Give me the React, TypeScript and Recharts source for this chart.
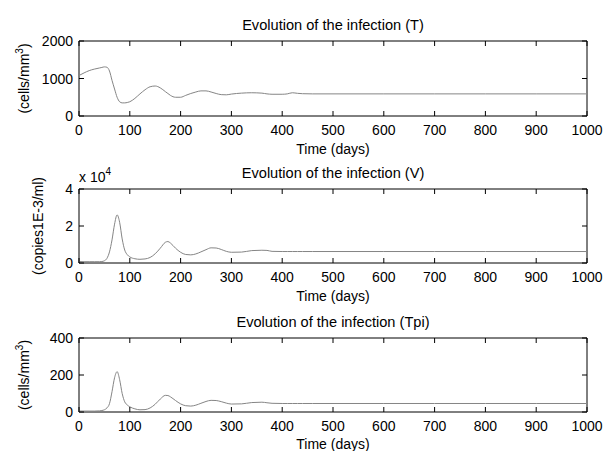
import React from 'react';
import { LineChart, Line, XAxis, YAxis, ReferenceArea, Label } from 'recharts';

const days = [0, 10, 20, 30, 40, 45, 50, 55, 60, 65, 70, 75, 80, 85, 90, 95, 100, 110, 120, 130, 140, 150, 160, 170, 175, 180, 190, 200, 210, 220, 230, 240, 250, 260, 270, 280, 290, 300, 320, 340, 360, 370, 380, 400, 410, 420, 430, 440, 460, 500, 600, 700, 800, 900, 1000];

const tCells = [1080, 1150, 1210, 1250, 1280, 1295, 1310, 1300, 1200, 950, 720, 500, 380, 350, 350, 360, 380, 470, 590, 700, 780, 800, 750, 650, 600, 550, 500, 500, 550, 600, 640, 670, 670, 640, 600, 570, 565, 585, 610, 620, 610, 590, 580, 580, 590, 620, 605, 595, 590, 590, 590, 590, 590, 590, 590];

const virus = [800, 700, 700, 700, 700, 800, 1200, 2500, 6000, 12500, 21000, 26000, 22000, 13000, 7000, 4500, 3300, 2300, 2000, 2200, 3000, 5000, 8000, 11200, 11600, 10800, 8000, 5800, 4600, 4400, 4900, 6000, 7200, 8200, 8100, 7300, 6300, 5800, 5900, 6700, 6900, 6800, 6300, 6200, 6200, 6200, 6200, 6200, 6200, 6200, 6200, 6200, 6200, 6200, 6200];

const tpi = [5, 5, 5, 5, 6, 8, 12, 22, 45, 110, 185, 218, 175, 100, 55, 38, 28, 17, 12, 13, 22, 42, 70, 90, 89, 82, 62, 44, 34, 32, 37, 47, 57, 63, 62, 56, 48, 43, 44, 51, 53, 50, 47, 46, 46, 46, 46, 46, 46, 46, 46, 46, 46, 46, 46];

const xTicks = [0, 100, 200, 300, 400, 500, 600, 700, 800, 900, 1000];
const tTicks = [0, 1000, 2000];
const vTicks = [0, 20000, 40000];
const tpiTicks = [0, 200, 400];

const titles = ['Evolution of the infection (T)', 'Evolution of the infection (V)', 'Evolution of the infection (Tpi)'];
const xLabel = 'Time (days)';

const rows = days.map((d, i) => ({ day: d, T: tCells[i], V: virus[i], Tpi: tpi[i] }));

const FONT = '"Liberation Sans", Arial, sans-serif';
const FS = 14;
const TITLE_FS = 14.6;
const LEFT = 79;
const RIGHT = 19;
const TOP = 41;
const W = 606;
const PLOT_W = W - LEFT - RIGHT;
const TICK = 5;
const YAXIS_W = 30;
const XAXIS_H = 20;

function makeXTick(plotH: number) {
  return (props: any) => {
    const { x, y, payload } = props;
    return (
      <g>
        <line x1={x} y1={y} x2={x} y2={y - TICK} stroke="#000" strokeWidth={1} />
        <line x1={x} y1={y - plotH} x2={x} y2={y - plotH + TICK} stroke="#000" strokeWidth={1} />
        <text x={x} y={y + 19} textAnchor="middle" fontFamily={FONT} fontSize={FS} fill="#000">
          {payload.value}
        </text>
      </g>
    );
  };
}

function makeYTick(fmt: (v: number) => string) {
  return (props: any) => {
    const { x, y, payload } = props;
    return (
      <g>
        <line x1={x} y1={y} x2={x + TICK} y2={y} stroke="#000" strokeWidth={1} />
        <line x1={x + PLOT_W} y1={y} x2={x + PLOT_W - TICK} y2={y} stroke="#000" strokeWidth={1} />
        <text x={x - 6} y={y} textAnchor="end" dominantBaseline="central" fontFamily={FONT} fontSize={FS} fill="#000">
          {fmt(payload.value)}
        </text>
      </g>
    );
  };
}

type PanelProps = {
  top: number;
  height: number;
  plotH: number;
  dataKey: string;
  yMax: number;
  yTicks: number[];
  fmt: (v: number) => string;
  title: string;
  yLabel: React.ReactNode;
  yLabelX: number;
  timeOffset: number;
  exponent?: boolean;
};

function Panel(p: PanelProps) {
  const cx = LEFT + PLOT_W / 2;
  const cy = TOP + p.plotH / 2;
  const xLabelContent = () => (
    <g>
      <text x={cx} y={TOP - 11} textAnchor="middle" fontFamily={FONT} fontSize={TITLE_FS} fill="#000">
        {p.title}
      </text>
      <text x={cx} y={TOP + p.plotH + p.timeOffset} textAnchor="middle" fontFamily={FONT} fontSize={FS} fill="#000">
        {xLabel}
      </text>
    </g>
  );
  const yLabelContent = () => (
    <g>
      <text
        x={p.yLabelX}
        y={cy}
        transform={`rotate(-90, ${p.yLabelX}, ${cy})`}
        textAnchor="middle"
        fontFamily={FONT}
        fontSize={FS}
        fill="#000"
      >
        {p.yLabel}
      </text>
      {p.exponent ? (
        <text x={LEFT} y={TOP - 7} fontFamily={FONT} fontSize={FS} fill="#000">
          x 10
          <tspan dy={-7} fontSize={10}>4</tspan>
        </text>
      ) : null}
    </g>
  );
  return (
    <div style={{ position: 'absolute', left: 0, top: p.top }}>
      <LineChart
        width={W}
        height={p.height}
        data={rows}
        margin={{ top: TOP, right: RIGHT, bottom: p.height - TOP - p.plotH - XAXIS_H, left: LEFT - YAXIS_W }}
      >
        <XAxis
          dataKey="day"
          type="number"
          domain={[0, 1000]}
          ticks={xTicks}
          interval={0}
          height={XAXIS_H}
          tickSize={0}
          tickMargin={0}
          tickLine={false}
          axisLine={false}
          tick={makeXTick(p.plotH)}
        >
          <Label content={xLabelContent} />
        </XAxis>
        <YAxis
          type="number"
          domain={[0, p.yMax]}
          ticks={p.yTicks}
          interval={0}
          width={YAXIS_W}
          tickSize={0}
          tickMargin={0}
          tickLine={false}
          axisLine={false}
          tick={makeYTick(p.fmt)}
        >
          <Label content={yLabelContent} />
        </YAxis>
        <ReferenceArea x1={0} x2={1000} y1={0} y2={p.yMax} fill="none" stroke="#000" strokeWidth={1} fillOpacity={0} />
        <Line
          type="monotone"
          dataKey={p.dataKey}
          stroke="#858585"
          strokeWidth={1}
          dot={false}
          isAnimationActive={false}
        />
      </LineChart>
    </div>
  );
}

export default function App() {
  return (
    <div style={{ position: 'absolute', left: 0, top: 0, width: W, height: 451, background: '#fff', overflow: 'hidden' }}>
      <Panel
        top={0}
        height={160}
        plotH={75}
        dataKey="T"
        yMax={2000}
        yTicks={tTicks}
        fmt={(v) => String(v)}
        title={titles[0]}
        yLabel={<>(cells/mm<tspan dy={-6} fontSize={10}>3</tspan><tspan dy={6}>)</tspan></>}
        yLabelX={29}
        timeOffset={38}
      />
      <Panel
        top={148}
        height={160}
        plotH={74}
        dataKey="V"
        yMax={40000}
        yTicks={vTicks}
        fmt={(v) => String(v / 10000)}
        title={titles[1]}
        yLabel={'(copies1E-3/ml)'}
        yLabelX={43}
        timeOffset={38}
        exponent
      />
      <Panel
        top={297}
        height={154}
        plotH={74}
        dataKey="Tpi"
        yMax={400}
        yTicks={tpiTicks}
        fmt={(v) => String(v)}
        title={titles[2]}
        yLabel={<>(cells/mm<tspan dy={-6} fontSize={10}>3</tspan><tspan dy={6}>)</tspan></>}
        yLabelX={29}
        timeOffset={37}
      />
    </div>
  );
}
